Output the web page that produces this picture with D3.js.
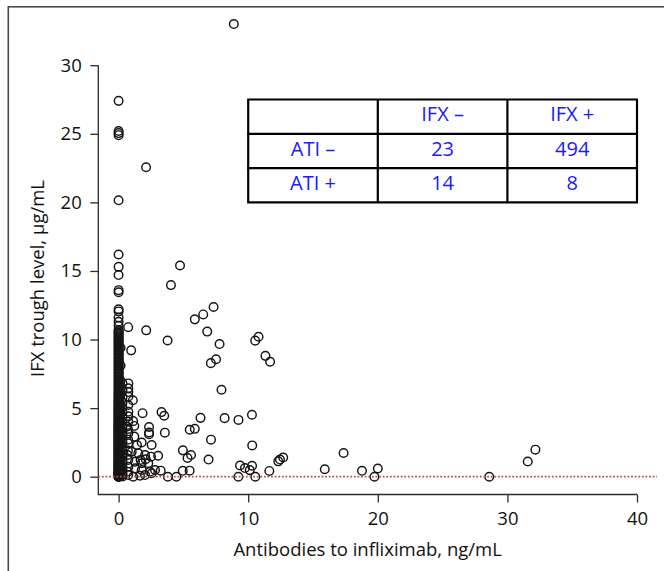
<!DOCTYPE html>
<html>
<head>
<meta charset="utf-8">
<script src="https://cdn.jsdelivr.net/npm/d3@7"></script>
<style>
  html, body { margin: 0; padding: 0; background: #ffffff; }
  svg { display: block; font-family: "Open Sans", "Noto Sans", sans-serif; }
</style>
</head>
<body>
<svg id="chart" width="664" height="571"></svg>
<script>
// Patients with measurable antibodies to infliximab (ATI, ng/mL) and their IFX trough level (µg/mL)
const atiX = [
  8.89, 2.12, 4.74, 4.04, 7.33, 5.88, 6.53, 0.74, 2.13, 6.84,
  3.78, 7.79, 10.54, 10.80, 0.97, 11.33, 11.69, 7.12, 7.52, 7.94,
  0.75, 0.75, 0.75, 1.10, 0.75, 0.75, 0.75, 1.85, 3.31, 3.52,
  6.32, 8.18, 9.25, 10.29, 0.75, 1.12, 0.62, 1.21, 2.35, 2.35,
  2.35, 3.57, 5.49, 5.88, 0.75, 1.21, 7.13, 10.31, 2.55, 1.78,
  1.42, 0.75, 4.96, 5.59, 5.32, 3.05, 2.50, 2.09, 1.70, 1.01,
  1.52, 2.04, 6.94, 12.70, 12.45, 12.32, 17.36, 32.16, 31.57, 15.91,
  18.78, 20.00, 19.74, 28.60, 9.37, 9.75, 10.12, 10.30, 11.63, 9.24,
  10.55, 4.95, 5.48, 3.80, 4.46, 3.25, 2.81, 2.55, 2.04, 1.65,
  1.13, 0.75, 1.27, 1.78, 2.29, 0.75, 1.27, 1.78, 2.42, 0.75,
  0.72, 0.70, 0.74, 0.72, 0.76, 0.71
];
const ifxY = [
  33.0, 22.56, 15.40, 13.97, 12.37, 11.47, 11.83, 10.90, 10.67, 10.58,
  9.93, 9.67, 9.92, 10.20, 9.21, 8.81, 8.38, 8.28, 8.56, 6.34,
  6.80, 6.44, 6.17, 5.57, 5.23, 4.74, 4.40, 4.63, 4.71, 4.44,
  4.29, 4.27, 4.14, 4.52, 4.01, 4.05, 3.64, 3.70, 3.62, 3.22,
  3.10, 3.21, 3.42, 3.49, 3.16, 2.92, 2.70, 2.28, 2.31, 2.49,
  2.31, 2.43, 1.92, 1.58, 1.36, 1.53, 1.46, 1.27, 1.22, 1.82,
  1.71, 1.58, 1.25, 1.40, 1.25, 1.12, 1.73, 1.97, 1.11, 0.54,
  0.43, 0.60, 0.00, 0.00, 0.82, 0.63, 0.48, 0.80, 0.42, 0.00,
  0.00, 0.43, 0.44, 0.00, 0.00, 0.44, 0.49, 0.25, 0.12, 0.07,
  0.00, 1.22, 1.09, 0.98, 0.98, 0.73, 0.61, 0.49, 0.36, 0.12,
  1.90, 1.58, 2.70, 3.48, 5.85, 0.35
];
// Patients without measurable ATI, plotted at 0 ng/mL
const troughAtZero = [
  0.00, 0.00, 0.00, 0.00, 0.02, 0.04, 0.06, 0.08, 0.10, 0.13,
  0.16, 0.19, 0.22, 0.25, 0.28, 0.31, 0.34, 0.37, 0.40, 0.44,
  0.48, 0.52, 0.56, 0.60, 0.64, 0.68, 0.72, 0.76, 0.80, 0.84,
  0.88, 0.92, 0.96, 1.00, 1.04, 1.08, 1.12, 1.16, 1.20, 1.25,
  1.30, 1.35, 1.40, 1.45, 1.50, 1.55, 1.60, 1.65, 1.70, 1.75,
  1.80, 1.85, 1.90, 1.95, 2.00, 2.05, 2.10, 2.15, 2.20, 2.25,
  2.30, 2.35, 2.40, 2.45, 2.50, 2.55, 2.60, 2.65, 2.70, 2.75,
  2.80, 2.85, 2.90, 2.95, 3.00, 3.05, 3.10, 3.15, 3.20, 3.25,
  3.30, 3.35, 3.40, 3.45, 3.50, 3.55, 3.60, 3.65, 3.70, 3.75,
  3.80, 3.85, 3.90, 3.95, 4.00, 4.06, 4.12, 4.18, 4.24, 4.30,
  4.36, 4.42, 4.48, 4.54, 4.60, 4.66, 4.72, 4.78, 4.84, 4.90,
  4.96, 5.02, 5.09, 5.16, 5.23, 5.30, 5.37, 5.44, 5.51, 5.58,
  5.65, 5.72, 5.80, 5.88, 5.96, 6.04, 6.12, 6.20, 6.30, 6.40,
  6.50, 6.60, 6.70, 6.80, 6.90, 7.00, 7.10, 7.20, 7.30, 7.40,
  7.50, 7.60, 7.70, 7.80, 7.90, 8.00, 8.10, 8.20, 8.30, 8.40,
  8.50, 8.60, 8.70, 8.80, 8.90, 9.00, 9.10, 9.20, 9.30, 9.40,
  9.50, 9.60, 9.70, 9.80, 9.90, 10.00, 10.10, 10.20, 10.30, 10.40,
  10.50, 10.60, 10.70, 11.00, 11.30, 11.60, 12.05, 12.20, 13.45, 13.60,
  14.70, 15.30, 16.20, 20.15, 24.90, 25.05, 25.20, 27.40
];
// ... and those just above the detection limit
const troughNearZero = [
  0.02, 0.15, 0.30, 0.50, 0.70, 0.95, 1.15, 1.40, 1.65, 1.90,
  2.20, 2.50, 2.75, 3.05, 3.35, 3.70, 4.05, 4.35, 4.70, 5.05,
  5.40, 5.80, 6.30, 6.80
];
const troughJustAboveZero = [
  0.05, 0.40, 0.85, 1.30, 1.75, 2.30, 2.85, 3.40, 4.00, 4.60,
  5.20, 6.00, 7.00, 8.10, 9.40
];
const nearZeroAti = 0.3;
const justAboveZeroAti = 0.15;

const xTicks = [0, 10, 20, 30, 40];
const yTicks = [0, 5, 10, 15, 20, 25, 30];

// Cross-tabulation of ATI status against IFX status
const tableHeader = ["", "IFX \u2013", "IFX +"];
const tableRowLabels = ["ATI \u2013", "ATI +"];
const tableCounts = [[23, 494], [14, 8]];

const xTitle = "Antibodies to infliximab, ng/mL";
const yTitle = "IFX trough level, \u00b5g/mL";

// ---- drawing ----
const svg = d3.select("#chart");
const axisColor = "#2b2b2b";
const pointColor = "#161616";
const tableText = "#1a1aff";
const fontSize = 18.5;

const x = d3.scaleLinear().domain([0, 40]).range([118.6, 637]);
const y = d3.scaleLinear().domain([0, 30]).range([476.7, 65.2]);
const axisLeftX = 98.3, axisBottomY = 494.5;

// outer frame
svg.append("rect")
  .attr("x", 8.3).attr("y", 6.8)
  .attr("width", 700).attr("height", 620)
  .attr("fill", "none").attr("stroke", "#4a4a4a").attr("stroke-width", 1.6);

// L-shaped axis lines
svg.append("path")
  .attr("d", `M${axisLeftX},${y(30)}V${axisBottomY}H${x(40)}`)
  .attr("fill", "none").attr("stroke", axisColor).attr("stroke-width", 1.3);

const yAxis = svg.append("g")
  .attr("transform", `translate(${axisLeftX},0)`)
  .call(d3.axisLeft(y).tickValues(yTicks).tickSize(8).tickFormat(d3.format("d")));
yAxis.select(".domain").remove();
yAxis.selectAll("line").attr("stroke", axisColor).attr("stroke-width", 1.3);
yAxis.selectAll("text")
  .attr("x", -16.6).attr("font-size", fontSize).attr("fill", "#111")
  .attr("font-family", "'Open Sans', sans-serif");

const xAxis = svg.append("g")
  .attr("transform", `translate(0,${axisBottomY})`)
  .call(d3.axisBottom(x).tickValues(xTicks).tickSize(8).tickFormat(d3.format("d")));
xAxis.select(".domain").remove();
xAxis.selectAll("line").attr("stroke", axisColor).attr("stroke-width", 1.3);
xAxis.selectAll("text")
  .attr("y", 30).attr("dy", null).attr("font-size", fontSize).attr("fill", "#111")
  .attr("font-family", "'Open Sans', sans-serif");

// axis titles
svg.append("text")
  .attr("x", (axisLeftX + x(40)) / 2).attr("y", 556)
  .attr("text-anchor", "middle").attr("font-size", fontSize).attr("fill", "#111")
  .text(xTitle);
svg.append("text")
  .attr("transform", "translate(43.5,278.5) rotate(-90)")
  .attr("text-anchor", "middle").attr("font-size", fontSize).attr("fill", "#111")
  .text(yTitle);

// points
const points = [];
troughAtZero.forEach(v => points.push([0, v]));
troughJustAboveZero.forEach(v => points.push([justAboveZeroAti, v]));
troughNearZero.forEach(v => points.push([nearZeroAti, v]));
atiX.forEach((v, i) => points.push([v, ifxY[i]]));

svg.append("g").selectAll("circle")
  .data(points).join("circle")
  .attr("cx", d => x(d[0])).attr("cy", d => y(d[1]))
  .attr("r", 4.3)
  .attr("fill", "none").attr("stroke", pointColor).attr("stroke-width", 1.45);

// reference line at 0 µg/mL
svg.append("line")
  .attr("x1", axisLeftX).attr("x2", 657)
  .attr("y1", y(0)).attr("y2", y(0))
  .attr("stroke", "#b9504c").attr("stroke-width", 1.8)
  .attr("stroke-dasharray", "1.8,1.8");

// inset table, laid out in data units
const colEdges = [10, 20, 30, 40];
const rowEdges = [27.5, 25, 22.5, 20];
const tbl = svg.append("g");
const cells = [];
tableHeader.forEach((t, c) => cells.push({ r: 0, c, t }));
tableRowLabels.forEach((lab, r) => {
  cells.push({ r: r + 1, c: 0, t: lab });
  tableCounts[r].forEach((v, c) => cells.push({ r: r + 1, c: c + 1, t: String(v) }));
});
tbl.selectAll("text").data(cells).join("text")
  .attr("x", d => (x(colEdges[d.c]) + x(colEdges[d.c + 1])) / 2)
  .attr("y", d => (y(rowEdges[d.r]) + y(rowEdges[d.r + 1])) / 2 + 4.8)
  .attr("text-anchor", "middle").attr("font-size", 20).attr("fill", tableText)
  .text(d => d.t);
tbl.selectAll("line.h").data(rowEdges).join("line").attr("class", "h")
  .attr("x1", x(10) - 1).attr("x2", x(40) + 1)
  .attr("y1", d => y(d)).attr("y2", d => y(d))
  .attr("stroke", "#000").attr("stroke-width", 2.2);
tbl.selectAll("line.v").data(colEdges).join("line").attr("class", "v")
  .attr("x1", d => x(d)).attr("x2", d => x(d))
  .attr("y1", y(27.5)).attr("y2", y(20))
  .attr("stroke", "#000").attr("stroke-width", 2.2);
</script>
</body>
</html>
